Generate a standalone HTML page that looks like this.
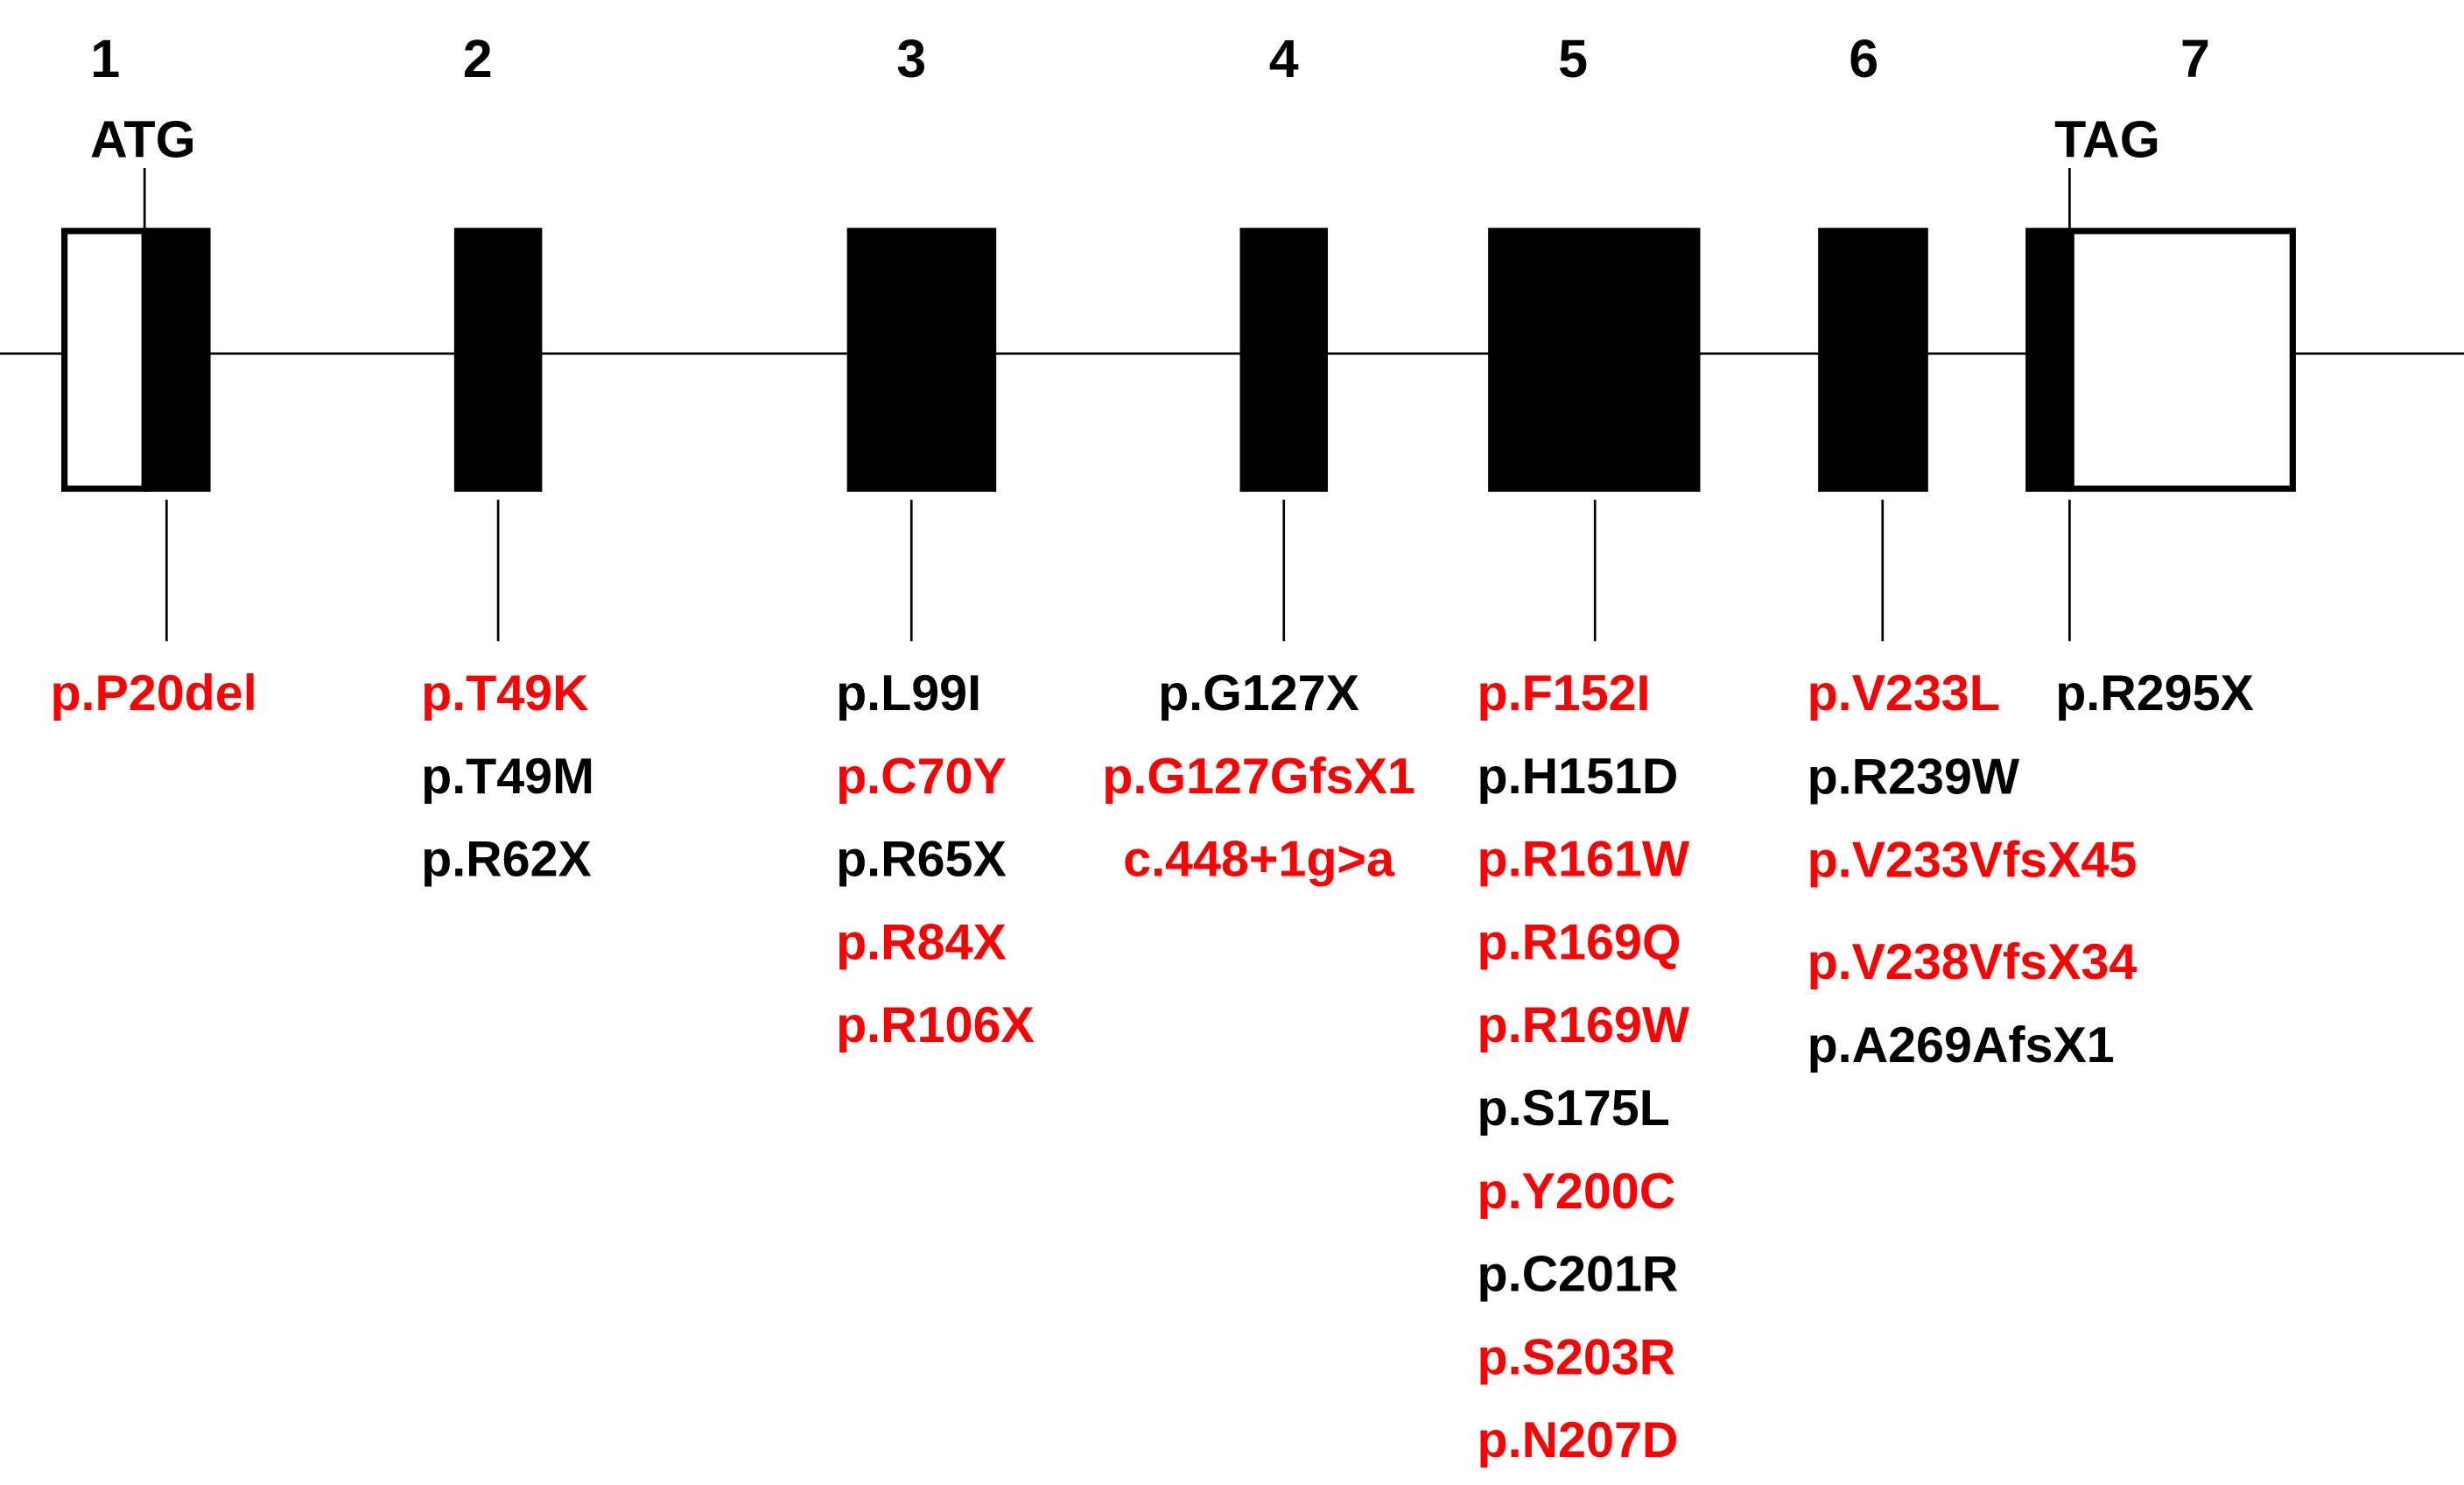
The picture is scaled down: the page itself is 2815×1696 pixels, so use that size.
<!DOCTYPE html>
<html><head><meta charset="utf-8"><style>
html,body{margin:0;padding:0;background:#fff;}
svg{display:block;}
text{font-family:"Liberation Sans",Arial,sans-serif;font-weight:bold;}
</style></head><body>
<svg id="chart" width="2815" height="1696" viewBox="0 0 1568 945" preserveAspectRatio="none" xmlns="http://www.w3.org/2000/svg">
<line x1="0" y1="225" x2="1568" y2="225" stroke="#000" stroke-width="1.5"/>
<g id="exons"></g>
<g id="labels"></g>
<text x="91" y="100" font-size="33" text-anchor="middle">ATG</text>
<line x1="92" y1="107" x2="92" y2="145" stroke="#000" stroke-width="1.5"/>
<text x="1341" y="100" font-size="33" text-anchor="middle">TAG</text>
<line x1="1317" y1="107" x2="1317" y2="145" stroke="#000" stroke-width="1.5"/>
</svg>
<script>
const exonNumbers = ["1","2","3","4","5","6","7"];
const exonNumX = [67,304,580,817,1001,1186,1397];
const exonBlack = [[92,134],[289,345],[539,634],[789,845],[947,1082],[1157,1227],[1289,1318]];
const exonWhite = [[39,92],null,null,null,null,null,[1316,1459]];
const stemX = [106,317,580,817,1015,1198,1317];
const labelX = [32,268,532,801,940,1150,1308];
const labelAnchor = ["start","start","start","middle","start","start","start"];
const mutations = [
 [["p.P20del","r"]],
 [["p.T49K","r"],["p.T49M","k"],["p.R62X","k"]],
 [["p.L99I","k"],["p.C70Y","r"],["p.R65X","k"],["p.R84X","r"],["p.R106X","r"]],
 [["p.G127X","k"],["p.G127GfsX1","r"],["c.448+1g>a","r"]],
 [["p.F152I","r"],["p.H151D","k"],["p.R161W","r"],["p.R169Q","r"],["p.R169W","r"],["p.S175L","k"],["p.Y200C","r"],["p.C201R","k"],["p.S203R","r"],["p.N207D","r"]],
 [["p.V233L","r"],["p.R239W","k"],["p.V233VfsX45","r"],["p.V238VfsX34","r"],["p.A269AfsX1","k"]],
 [["p.R295X","k"]]
];
const col6Rows = [441,494,547,612,665];
const NS="http://www.w3.org/2000/svg";
const svg=document.getElementById('chart');
const eg=document.getElementById('exons'), lg=document.getElementById('labels');
function mk(t,a){const e=document.createElementNS(NS,t);for(const k in a)e.setAttribute(k,a[k]);return e;}
exonNumbers.forEach((n,i)=>{
 const t=mk('text',{x:exonNumX[i],y:49,'font-size':34,'text-anchor':'middle'});
 
 
 t.textContent=n; svg.appendChild(t);
 const b=exonBlack[i];
 const r=mk('rect',{x:b[0],y:145,width:b[1]-b[0],height:168,fill:'#000'});
 
 
 eg.appendChild(r);
 if(exonWhite[i]){const w=exonWhite[i];
  const r2=mk('rect',{x:w[0]+2,y:147,width:w[1]-w[0]-2,height:164,fill:'#fff',stroke:'#000','stroke-width':4});
  
  
  eg.appendChild(r2);}
 const s=mk('line',{x1:stemX[i],y1:318,x2:stemX[i],y2:408,stroke:'#000','stroke-width':1.5});
 
 
 lg.appendChild(s);
 mutations[i].forEach((m,j)=>{
  const y=(i===5?col6Rows[j]:441+j*52.8)+11;
  const t=mk('text',{x:labelX[i],y:y,'font-size':32,'text-anchor':labelAnchor[i],fill:m[1]==='r'?'#ff0000':'#000'});
  
  
  t.textContent=m[0]; lg.appendChild(t);
 });
});
</script>
</body></html>
